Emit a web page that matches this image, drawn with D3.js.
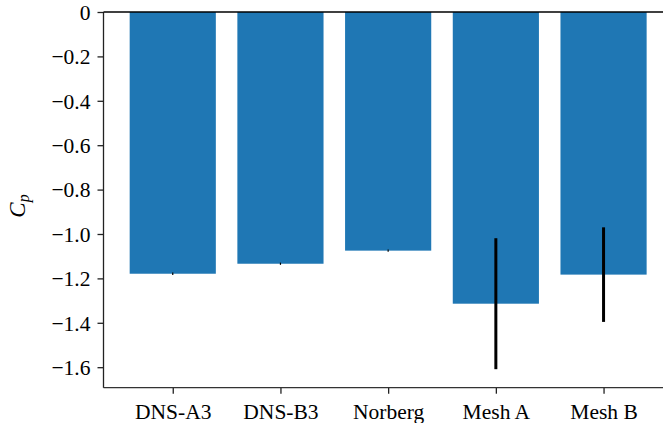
<html>
<head>
<style>
  body { margin: 0; background: #fff; }
  svg { display: block; }
</style>
</head>
<body>
<script src="https://d3js.org/d3.v7.min.js"></script>
<script>
  // chart values
  const cases = ["DNS-A3", "DNS-B3", "Norberg", "Mesh A", "Mesh B"];
  const cp = [-1.179, -1.134, -1.075, -1.314, -1.183];
  const cpErr = [0.006, 0.005, 0.005, 0.295, 0.213];
  const yTicks = [0, -0.2, -0.4, -0.6, -0.8, -1.0, -1.2, -1.4, -1.6];
  const yTickLabels = ["0", "\u22120.2", "\u22120.4", "\u22120.6", "\u22120.8", "\u22121.0", "\u22121.2", "\u22121.4", "\u22121.6"];

  const serif = "'Liberation Serif', 'Times New Roman', Times, serif";
  const width = 663, height = 423;
  const plotLeft = 103.5, plotTop = 12, plotBottom = 387.7;

  const svg = d3.select("body").append("svg")
      .attr("width", width)
      .attr("height", height)
      .style("font-family", serif);

  // matplotlib-like x limits for a bar plot with width 0.8
  // (right spine falls outside the cropped picture)
  const x = d3.scaleLinear()
      .domain([-0.643, 4.643])
      .range([plotLeft, plotLeft + 5.286 * 107.7]);

  const y = d3.scaleLinear()
      .domain([0, -1.6924])
      .range([plotTop, plotBottom]);

  const barW = x(0.8) - x(0);

  svg.selectAll("rect.bar")
      .data(cp)
      .enter().append("rect")
      .attr("class", "bar")
      .attr("x", (d, i) => x(i) - barW / 2)
      .attr("y", y(0))
      .attr("width", barW)
      .attr("height", d => y(d) - y(0))
      .attr("fill", "#1f77b4");

  // error bars
  svg.selectAll("line.err")
      .data(cp)
      .enter().append("line")
      .attr("class", "err")
      .attr("x1", (d, i) => x(i))
      .attr("x2", (d, i) => x(i))
      .attr("y1", (d, i) => y(d + cpErr[i]))
      .attr("y2", (d, i) => y(d - cpErr[i]))
      .attr("stroke", "#000")
      .attr("stroke-width", (d, i) => cpErr[i] > 0.05 ? 3 : 1.2);

  // axes
  const yAxis = d3.axisLeft(y)
      .tickValues(yTicks)
      .tickFormat((d, i) => yTickLabels[i])
      .tickSize(6)
      .tickPadding(7);

  const gy = svg.append("g")
      .attr("transform", "translate(" + plotLeft + ",0)")
      .call(yAxis);
  gy.attr("font-family", null);
  gy.select(".domain").remove();
  gy.selectAll(".tick line").attr("stroke", "#222").attr("stroke-width", 1.3);
  gy.selectAll(".tick text")
      .style("font-family", serif)
      .attr("font-size", 21.5)
      .attr("fill", "#000")
      .attr("dy", "0.34em");

  const xAxis = d3.axisBottom(x)
      .tickValues(d3.range(cases.length))
      .tickFormat(i => cases[i])
      .tickSize(6)
      .tickPadding(10.5);

  const gx = svg.append("g")
      .attr("transform", "translate(0," + plotBottom + ")")
      .call(xAxis);
  gx.attr("font-family", null);
  gx.select(".domain").remove();
  gx.selectAll(".tick line").attr("stroke", "#222").attr("stroke-width", 1.3);
  gx.selectAll(".tick text")
      .style("font-family", serif)
      .attr("font-size", 21.5)
      .attr("fill", "#000");

  // spines
  svg.append("line")
      .attr("x1", plotLeft).attr("x2", width + 5)
      .attr("y1", plotBottom).attr("y2", plotBottom)
      .attr("stroke", "#333").attr("stroke-width", 1.3);
  svg.append("line")
      .attr("x1", plotLeft).attr("x2", plotLeft)
      .attr("y1", plotTop).attr("y2", plotBottom)
      .attr("stroke", "#222").attr("stroke-width", 1.3);
  svg.append("line")
      .attr("x1", plotLeft).attr("x2", width + 5)
      .attr("y1", y(0)).attr("y2", y(0))
      .attr("stroke", "#000").attr("stroke-width", 1.6);

  // y label
  const yl = svg.append("text")
      .attr("transform", "translate(25,206) rotate(-90)")
      .attr("text-anchor", "middle")
      .attr("font-size", 23)
      .attr("font-style", "italic")
      .attr("fill", "#000");
  yl.append("tspan").text("C");
  yl.append("tspan").attr("font-size", 16).attr("dy", 4).text("p");
</script>
</body>
</html>
